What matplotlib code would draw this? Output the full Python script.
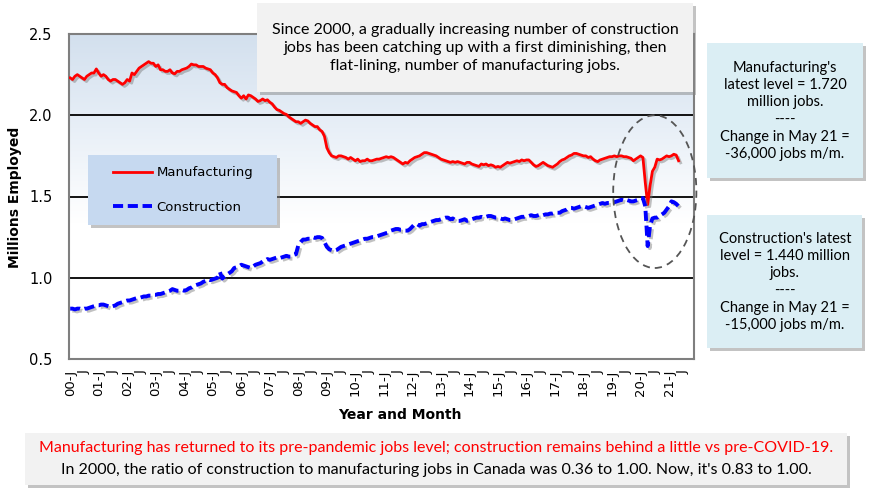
import matplotlib
matplotlib.use("Agg")
import matplotlib.pyplot as plt
import matplotlib.patheffects as pe
from matplotlib.patches import Rectangle, Ellipse
from matplotlib.lines import Line2D
from matplotlib.colors import LinearSegmentedColormap
import numpy as np

# Data: monthly employment, millions (Jan 2000 - May 2021)
manufacturing = [
    2.23, 2.22, 2.24, 2.25, 2.24, 2.23, 2.22, 2.24, 2.25, 2.26, 2.26, 2.285,   # 2000
    2.26, 2.24, 2.25, 2.24, 2.22, 2.21, 2.22, 2.22, 2.21, 2.20, 2.19, 2.20,    # 2001
    2.22, 2.21, 2.26, 2.25, 2.27, 2.29, 2.30, 2.31, 2.32, 2.33, 2.32, 2.32,    # 2002
    2.30, 2.31, 2.28, 2.28, 2.27, 2.27, 2.28, 2.26, 2.255, 2.27, 2.27, 2.28,   # 2003
    2.285, 2.29, 2.30, 2.315, 2.31, 2.31, 2.30, 2.30, 2.30, 2.29, 2.285, 2.28, # 2004
    2.26, 2.25, 2.23, 2.20, 2.19, 2.19, 2.17, 2.16, 2.15, 2.145, 2.14, 2.12,   # 2005
    2.105, 2.12, 2.10, 2.125, 2.12, 2.11, 2.10, 2.085, 2.09, 2.10, 2.09, 2.095,  # 2006
    2.08, 2.07, 2.05, 2.035, 2.03, 2.02, 2.01, 2.005, 1.99, 1.98, 1.97, 1.96,  # 2007
    1.96, 1.95, 1.96, 1.97, 1.965, 1.95, 1.94, 1.93, 1.93, 1.91, 1.90, 1.87,   # 2008
    1.80, 1.77, 1.75, 1.745, 1.74, 1.75, 1.75, 1.745, 1.74, 1.73, 1.74, 1.73,  # 2009
    1.72, 1.73, 1.715, 1.72, 1.72, 1.73, 1.72, 1.72, 1.725, 1.73, 1.73, 1.735, # 2010
    1.74, 1.745, 1.74, 1.745, 1.74, 1.73, 1.72, 1.71, 1.70, 1.71, 1.705, 1.72, # 2011
    1.73, 1.74, 1.745, 1.75, 1.76, 1.77, 1.77, 1.765, 1.76, 1.755, 1.75, 1.74, # 2012
    1.73, 1.725, 1.72, 1.715, 1.71, 1.715, 1.71, 1.715, 1.71, 1.705, 1.70, 1.71,  # 2013
    1.71, 1.70, 1.695, 1.69, 1.685, 1.70, 1.695, 1.70, 1.69, 1.695, 1.69, 1.68,   # 2014
    1.685, 1.68, 1.69, 1.70, 1.71, 1.705, 1.71, 1.715, 1.72, 1.715, 1.725, 1.72,  # 2015
    1.725, 1.725, 1.71, 1.695, 1.685, 1.69, 1.70, 1.71, 1.70, 1.69, 1.685, 1.68,  # 2016
    1.69, 1.70, 1.715, 1.725, 1.73, 1.74, 1.75, 1.755, 1.765, 1.765, 1.76, 1.755, # 2017
    1.75, 1.75, 1.74, 1.745, 1.73, 1.72, 1.715, 1.725, 1.73, 1.735, 1.74, 1.745,  # 2018
    1.745, 1.75, 1.745, 1.75, 1.75, 1.745, 1.745, 1.74, 1.735, 1.72, 1.73, 1.74,  # 2019
    1.75, 1.74, 1.585, 1.45, 1.565, 1.655, 1.68, 1.73, 1.725, 1.73, 1.74, 1.75,   # 2020
    1.745, 1.75, 1.76, 1.755, 1.72,                                               # 2021
]
construction = [
    0.81, 0.81, 0.805, 0.81, 0.81, 0.805, 0.81, 0.81, 0.815, 0.82, 0.825, 0.83,     # 2000
    0.83, 0.835, 0.835, 0.83, 0.825, 0.82, 0.825, 0.83, 0.84, 0.845, 0.85, 0.855,   # 2001
    0.86, 0.86, 0.865, 0.87, 0.875, 0.875, 0.88, 0.885, 0.885, 0.89, 0.89, 0.895,   # 2002
    0.895, 0.90, 0.90, 0.905, 0.91, 0.915, 0.92, 0.93, 0.925, 0.92, 0.92, 0.925,    # 2003
    0.92, 0.925, 0.935, 0.94, 0.95, 0.955, 0.96, 0.965, 0.975, 0.98, 0.99, 0.985,   # 2004
    0.99, 0.995, 1.00, 1.035, 0.995, 1.01, 1.02, 1.03, 1.04, 1.06, 1.065, 1.07,     # 2005
    1.08, 1.075, 1.07, 1.065, 1.06, 1.07, 1.08, 1.085, 1.09, 1.10, 1.105, 1.115,    # 2006
    1.11, 1.115, 1.12, 1.125, 1.12, 1.125, 1.13, 1.135, 1.13, 1.13, 1.14, 1.145,    # 2007
    1.20, 1.22, 1.235, 1.235, 1.24, 1.24, 1.25, 1.245, 1.25, 1.25, 1.245, 1.22,     # 2008
    1.19, 1.175, 1.17, 1.165, 1.17, 1.18, 1.19, 1.195, 1.20, 1.205, 1.21, 1.215,    # 2009
    1.22, 1.225, 1.23, 1.235, 1.24, 1.24, 1.245, 1.25, 1.25, 1.255, 1.26, 1.265,    # 2010
    1.27, 1.275, 1.28, 1.29, 1.295, 1.30, 1.30, 1.295, 1.295, 1.29, 1.29, 1.30,     # 2011
    1.315, 1.33, 1.33, 1.32, 1.33, 1.33, 1.335, 1.34, 1.345, 1.35, 1.355, 1.355,    # 2012
    1.36, 1.365, 1.37, 1.37, 1.36, 1.365, 1.355, 1.35, 1.35, 1.355, 1.36, 1.35,     # 2013
    1.355, 1.36, 1.365, 1.37, 1.37, 1.375, 1.37, 1.375, 1.38, 1.38, 1.375, 1.37,    # 2014
    1.37, 1.365, 1.36, 1.365, 1.36, 1.355, 1.355, 1.36, 1.365, 1.37, 1.375, 1.375,  # 2015
    1.38, 1.38, 1.385, 1.38, 1.38, 1.385, 1.39, 1.385, 1.39, 1.39, 1.395, 1.395,    # 2016
    1.40, 1.40, 1.40, 1.41, 1.415, 1.42, 1.43, 1.43, 1.425, 1.43, 1.435, 1.44,      # 2017
    1.44, 1.435, 1.43, 1.435, 1.44, 1.445, 1.45, 1.455, 1.46, 1.455, 1.46, 1.46,    # 2018
    1.46, 1.465, 1.47, 1.475, 1.48, 1.475, 1.48, 1.475, 1.47, 1.47, 1.475, 1.48,    # 2019
    1.49, 1.49, 1.44, 1.195, 1.32, 1.365, 1.37, 1.37, 1.38, 1.39, 1.40, 1.42,       # 2020
    1.44, 1.47, 1.465, 1.455, 1.44,                                                 # 2021
]
years = ["00", "01", "02", "03", "04", "05", "06", "07", "08", "09", "10",
         "11", "12", "13", "14", "15", "16", "17", "18", "19", "20", "21"]

months = np.arange(len(manufacturing))
tick_pos = np.arange(0, 12 * len(years), 6)
tick_labels = []
for y in years:
    tick_labels += [y + "-J", "J"]

W, H = 870, 496


def fbox(x0, y0, x1, y1):
    # pixel box (top-left origin) -> figure fraction rect
    return (x0 / W, 1 - y1 / H, (x1 - x0) / W, (y1 - y0) / H)


fig = plt.figure(figsize=(W / 100, H / 100), dpi=100)
ax = fig.add_axes(fbox(69, 34, 694, 359))

xmin, xmax = -0.5, 262.5
ax.set_xlim(xmin, xmax)
ax.set_ylim(0.5, 2.5)

# gradient background
cmap = LinearSegmentedColormap.from_list(
    "bg", [(0, "white"), (0.42, "white"), (0.75, "#e5edf6"), (1, "#d3e0ee")])
grad = np.linspace(0, 1, 256).reshape(-1, 1)
ax.imshow(grad, extent=[xmin, xmax, 0.5, 2.5], origin="lower", aspect="auto",
          cmap=cmap, zorder=0)

ax.set_yticks([0.5, 1.0, 1.5, 2.0, 2.5])
ax.set_yticklabels(["0.5", "1.0", "1.5", "2.0", "2.5"])
ax.yaxis.grid(True, color="black", lw=1.3)
ax.set_axisbelow(True)
for s in ax.spines.values():
    s.set_color("#7f7f7f")
    s.set_linewidth(1.5)
ax.tick_params(axis="y", length=0, pad=12, labelsize=10.5)
ax.set_xticks(tick_pos)
ax.set_xticklabels(tick_labels, rotation=90, fontsize=9.5)
ax.tick_params(axis="x", length=0, pad=8)

shadow = [pe.SimpleLineShadow(offset=(1.5, -1.5), shadow_color="#777777", alpha=0.45),
          pe.Normal()]
ax.plot(months, manufacturing, color="#ff0000", lw=2.0, path_effects=shadow, zorder=3)
ax.plot(months, construction, color="#0000ff", lw=2.8, dashes=(2.6, 1.2),
        path_effects=shadow, zorder=3)

# dashed ellipse around the COVID dip
ax.add_patch(Ellipse((246, 1.53), 35, 0.94, fill=False, ls=(0, (4, 3)),
                     ec="#555555", lw=1.3, clip_on=False, zorder=4))

# axis labels
fig.text(400 / W, 1 - 415 / H, "Year and Month", ha="center", va="center",
         fontsize=10, fontweight="bold")
fig.text(15 / W, 1 - 197 / H, "Millions Employed", ha="center", va="center",
         rotation=90, fontsize=10, fontweight="bold")

box_shadow = [pe.withSimplePatchShadow(offset=(2, -2), shadow_rgbFace="#888888", alpha=0.5)]


def add_box(x0, y0, x1, y1, color):
    r = Rectangle(fbox(x0, y0, x1, y1)[:2], (x1 - x0) / W, (y1 - y0) / H,
                  transform=fig.transFigure, fc=color, ec="none", zorder=2,
                  path_effects=box_shadow)
    fig.add_artist(r)


txt = "Lato"

# legend
add_box(88, 155, 277, 225, "#c6d9f0")
handles = [Line2D([], [], color="#ff0000", lw=2.0),
           Line2D([], [], color="#0000ff", lw=2.8, dashes=(2.6, 1.2))]
leg = fig.legend(handles, ["Manufacturing", "Construction"], loc="center",
                 bbox_to_anchor=(183 / W, 1 - 190 / H), frameon=False,
                 fontsize=9.5, handlelength=3.0, handletextpad=0.3,
                 labelspacing=1.6)
leg.set_zorder(5)

# title box
add_box(257, 3, 693, 92, "#f2f2f2")
fig.text(475 / W, 1 - 48 / H,
         "Since 2000, a gradually increasing number of construction\n"
         "jobs has been catching up with a first diminishing, then\n"
         "flat-lining, number of manufacturing jobs.",
         ha="center", va="center", fontsize=11.5, family=txt, linespacing=1.35,
         zorder=6)

# side boxes
add_box(707, 43, 863, 178, "#dbeef4")
fig.text(785 / W, 1 - 111 / H,
         "Manufacturing's\nlatest level = 1.720\nmillion jobs.\n----\n"
         "Change in May 21 =\n-36,000 jobs m/m.",
         ha="center", va="center", fontsize=10.5, family=txt, linespacing=1.3,
         zorder=6)
add_box(707, 215, 862, 348, "#dbeef4")
fig.text(785 / W, 1 - 282 / H,
         "Construction's latest\nlevel = 1.440 million\njobs.\n----\n"
         "Change in May 21 =\n-15,000 jobs m/m.",
         ha="center", va="center", fontsize=10.5, family=txt, linespacing=1.3,
         zorder=6)

# bottom box
add_box(25, 433, 847, 485, "#f2f2f2")
fig.text(436 / W, 1 - 448 / H,
         "Manufacturing has returned to its pre-pandemic jobs level; "
         "construction remains behind a little vs pre-COVID-19.",
         ha="center", va="center", fontsize=11.5, family=txt, color="#ff0000", zorder=6)
fig.text(436 / W, 1 - 470 / H,
         "In 2000, the ratio of construction to manufacturing jobs in Canada "
         "was 0.36 to 1.00. Now, it's 0.83 to 1.00.",
         ha="center", va="center", fontsize=11.5, family=txt, zorder=6)

fig.savefig("out.png", dpi=100)
